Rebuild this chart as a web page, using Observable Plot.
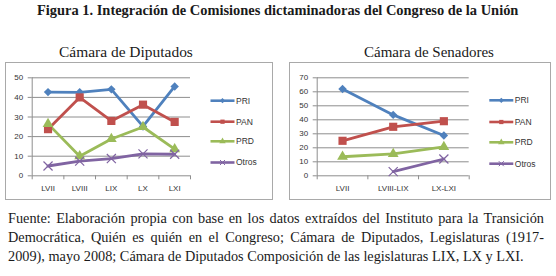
<!DOCTYPE html>
<html><head><meta charset="utf-8">
<script src="https://cdn.jsdelivr.net/npm/d3@7"></script>
<script src="https://cdn.jsdelivr.net/npm/@observablehq/plot@0.6"></script>
<style>
body{margin:0;width:556px;height:276px;position:relative;background:#fff;overflow:hidden}
.t{position:absolute;white-space:nowrap;color:#1a1a1a;font-family:"Liberation Serif",serif}
.box{position:absolute;top:62px;height:138px;border:1px solid #a9a9a9;box-sizing:border-box}
.cap{position:absolute;left:8px;width:536px;font-family:"Liberation Serif",serif;color:#1a1a1a;line-height:19px}
.cap div{height:19px;white-space:nowrap}
.j{text-align:justify;text-align-last:justify;white-space:normal!important}
</style></head>
<body>
<script>
// ---- data ----
const parties = ["PRI", "PAN", "PRD", "Otros"];
const partyColors = ["#4F81BD", "#C0504D", "#9BBB59", "#8064A2"];

const dipCats = ["LVII", "LVIII", "LIX", "LX", "LXI"];
const dipPRI = [42.7, 42.6, 44.1, 25.2, 45.6];
const dipPAN = [23.8, 40.0, 28.0, 36.3, 27.5];
const dipPRD = [26.5, 10.0, 18.8, 24.9, 13.6];
const dipOtros = [5.0, 7.5, 8.8, 11.2, 11.0];
const dipTicks = [0, 10, 20, 30, 40, 50];

const senCats = ["LVII", "LVIII-LIX", "LX-LXI"];
const senPRI = [62.0, 43.5, 28.8];
const senPAN = [25.0, 35.0, 39.0];
const senPRD = [13.6, 15.6, 20.6];
const senOtros = [null, 3.0, 12.0];
const senTicks = [0, 10, 20, 30, 40, 50, 60, 70];

const figTitle = "Figura 1. Integración de Comisiones dictaminadoras del Congreso de la Unión";
const dipTitle = "Cámara de Diputados";
const senTitle = "Cámara de Senadores";
const capLines = [
  "Fuente: Elaboración propia con base en los datos extraídos del Instituto para la Transición",
  "Democrática, Quién es quién en el Congreso; Cámara de Diputados, Legislaturas (1917-",
  "2009), mayo 2008; Cámara de Diputados Composición de las legislaturas LIX, LX y LXI."
];

// ---- helpers ----
const ctx = document.createElement("canvas").getContext("2d");
function fitSize(text, weight, family, target) {
  ctx.font = `${weight} 100px ${family}`;
  return 100 * target / ctx.measureText(text).width;
}
const root = document.body;
function addText(text, weight, centerX, centerY, targetW) {
  const fam = '"Liberation Serif"';
  const size = fitSize(text, weight, fam, targetW);
  const d = document.createElement("div");
  d.className = "t";
  d.textContent = text;
  d.style.fontWeight = weight;
  d.style.fontSize = size + "px";
  d.style.lineHeight = "20px";
  d.style.left = (centerX - targetW / 2) + "px";
  d.style.top = (centerY - 10) + "px";
  root.appendChild(d);
}

addText(figTitle, "bold", 278, 10, 482);
addText(dipTitle, "normal", 126, 51.5, 134);
addText(senTitle, "normal", 429, 51.5, 130);

function chart(cfg) {
  const {cats, series, ticks, left, width, mLeft, mRight, legendX, legendY} = cfg;
  const height = 138, mTop = 15.3, mBottom = 24.7;
  const rows = [];
  series.forEach((vals, k) => vals.forEach((v, i) => rows.push({i, party: parties[k], v})));
  const idx = cats.map((_, i) => i);
  const bounds = d3.range(cats.length + 1).map(i => i - 0.5);
  const ymax = ticks[ticks.length - 1];
  const of = p => rows.filter(d => d.party === p && d.v != null);
  const grid = "#8e8e8e";
  const svg = Plot.plot({
    width, height, marginLeft: mLeft, marginRight: mRight, marginTop: mTop, marginBottom: mBottom,
    style: {fontFamily: "Liberation Sans", fontSize: "8px", color: "#333", background: "transparent", overflow: "visible"},
    x: {type: "linear", domain: [-0.5, cats.length - 0.5], axis: null},
    y: {domain: [0, ymax], axis: null},
    color: {domain: parties, range: partyColors},
    marks: [
      Plot.ruleY(ticks.slice(1), {stroke: grid, strokeWidth: 1}),
      Plot.ruleY([0], {stroke: grid}),
      Plot.ruleX([-0.5], {stroke: grid}),
      Plot.axisY(ticks, {anchor: "left", label: null, tickSize: 4, tickPadding: 5, stroke: grid, fill: "#333"}),
      Plot.axisX(bounds, {anchor: "bottom", label: null, tickSize: 4, tickFormat: () => "", stroke: grid}),
      Plot.axisX(idx, {anchor: "bottom", label: null, tickSize: 0, tickPadding: 10, tickFormat: i => cats[i], fill: "#333"}),
      Plot.line(rows, {x: "i", y: "v", z: "party", stroke: "party", strokeWidth: 2.8, curve: "linear"}),
      Plot.dot(of("PRI"), {x: "i", y: "v", fill: "party", symbol: "diamond2", r: 3.8}),
      Plot.dot(of("PAN"), {x: "i", y: "v", fill: "party", symbol: "square", r: 4.6}),
      Plot.dot(of("PRD"), {x: "i", y: "v", fill: "party", symbol: "triangle", r: 4}),
      Plot.dot(of("Otros"), {x: "i", y: "v", stroke: "party", symbol: "times", r: 4.2, strokeWidth: 1.2})
    ]
  });
  // legend
  const g = d3.select(svg).append("g").attr("text-anchor", "start");
  const syms = [d3.symbolDiamond2, d3.symbolSquare, d3.symbolTriangle, d3.symbolTimes];
  parties.forEach((p, k) => {
    const y = legendY[k];
    g.append("line").attr("x1", legendX).attr("x2", legendX + 24).attr("y1", y).attr("y2", y)
      .attr("stroke", partyColors[k]).attr("stroke-width", 2.6);
    const path = g.append("path").attr("d", d3.symbol(syms[k], 18)())
      .attr("transform", `translate(${legendX + 12},${y})`);
    if (k === 3) path.attr("fill", "none").attr("stroke", partyColors[k]).attr("stroke-width", 1);
    else path.attr("fill", partyColors[k]);
    g.append("text").attr("x", legendX + 25.5).attr("y", y).attr("dy", "0.35em")
      .attr("text-anchor", "start")
      .attr("font-family", "Liberation Sans").attr("font-size", 8.5).attr("fill", "#333").text(p);
  });
  svg.style.left = left + "px";
  svg.style.position = "absolute";
  svg.style.top = "62px";
  const box = document.createElement("div");
  box.className = "box";
  box.style.left = left + "px";
  box.style.width = width + "px";
  root.appendChild(box);
  root.appendChild(svg);
}

chart({cats: dipCats, series: [dipPRI, dipPAN, dipPRD, dipOtros], ticks: dipTicks,
  left: 5, width: 268, mLeft: 26.7, mRight: 83, legendX: 205.5, legendY: [38.7, 59.7, 79.3, 100.5]});
chart({cats: senCats, series: [senPRI, senPAN, senPRD, senOtros], ticks: senTicks,
  left: 289, width: 262, mLeft: 27.7, mRight: 82.3, legendX: 200.3, legendY: [38.3, 60, 80.3, 101.7]});

// caption
const cap = document.createElement("div");
cap.className = "cap";
cap.style.top = "209px";
const capSize = fitSize(capLines[2], "normal", '"Liberation Serif"', 516);
cap.style.fontSize = capSize + "px";
capLines.forEach((line, k) => {
  const d = document.createElement("div");
  d.textContent = line;
  if (k < 2) d.className = "j";
  cap.appendChild(d);
});
root.appendChild(cap);
</script>
</body></html>
